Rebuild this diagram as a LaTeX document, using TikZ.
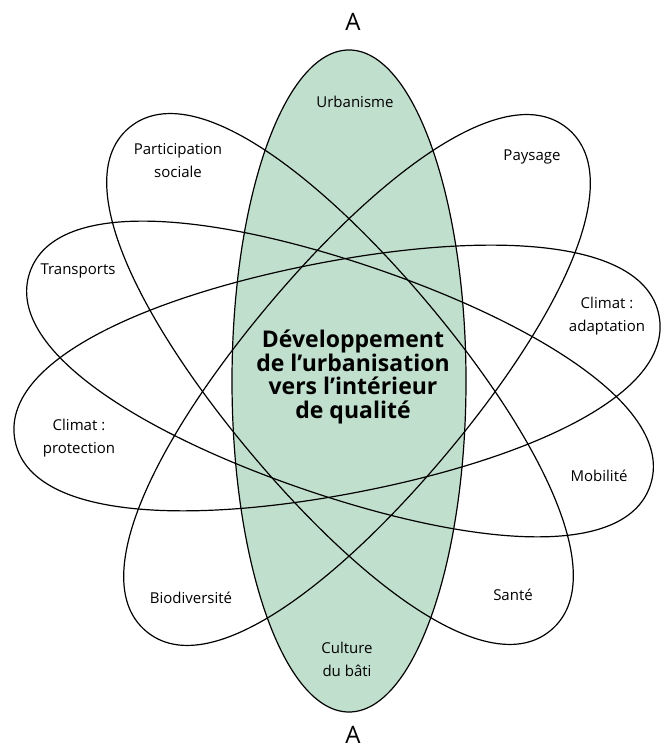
\documentclass[tikz,border=0pt]{standalone}
\usepackage{fontspec}
\setmainfont{Open Sans}
\usetikzlibrary{positioning}
\definecolor{urbgreen}{RGB}{193,223,205}

\tikzset{
    petal/.style={draw=black, line width=1.2pt},
    % blunt-ended oval, long axis along x (328 x 116)
    petalshape/.style={insert path={
        (328,0) .. controls (328,81) and (170,116) .. (0,116)
        .. controls (-170,116) and (-328,81) .. (-328,0)
        .. controls (-328,-81) and (-170,-116) .. (0,-116)
        .. controls (170,-116) and (328,-81) .. (328,0) -- cycle}},
    lbl/.style={align=center, inner sep=0pt, font=\fontsize{15}{23}\selectfont},
    corelbl/.style={align=center, inner sep=0pt, font=\fontsize{23}{23.5}\selectfont\bfseries},
    axislbl/.style={inner sep=0pt, font=\fontsize{24}{24}\selectfont}
}

\begin{document}
\begin{tikzpicture}[x=1pt, y=1pt]
    \useasboundingbox (0,0) rectangle (663,751);

    % Centres of the ellipses
    \coordinate (hub) at (349,370);
    \coordinate (hubPS) at (340,372);
    \coordinate (hubPB) at (357,371);
    \coordinate (hubTM) at (340,372);
    \coordinate (hubCC) at (337,373);

    % Central ellipse (filled, below all outlines)
    \fill[urbgreen] (hub) ellipse [x radius=117pt, y radius=331pt];

    % Participation sociale -- Sante
    \draw[petal, shift={(hubPS)}, rotate=-50, petalshape];
    % Paysage -- Biodiversite
    \draw[petal, shift={(hubPB)}, rotate=50, petalshape];
    % Transports -- Mobilite
    \draw[petal, shift={(hubTM)}, rotate=-19, petalshape];
    % Climat : protection -- Climat : adaptation
    \draw[petal, shift={(hubCC)}, rotate=11, petalshape];
    % Urbanisme -- Culture du bati
    \draw[petal] (hub) ellipse [x radius=117pt, y radius=331pt];

    % Axis marks
    \node[axislbl] (atop) at (353,729) {A};
    \node[axislbl] (abot) at (353,16) {A};

    % Labels
    \node[lbl] (urba) at (355,649) {Urbanisme};
    \node[lbl] (culture) at (347,92) {Culture\\du bâti};
    \node[lbl] (partic) at (178,590) {Participation\\sociale};
    \node[lbl] (sante) at (513,156) {Santé};
    \node[lbl] (paysage) at (532,594) {Paysage};
    \node[lbl] (biodiv) at (191,153) {Biodiversité};
    \node[lbl] (transp) at (78,480) {Transports};
    \node[lbl] (mobil) at (599,275) {Mobilité};
    \node[lbl] (climprot) at (79,313) {Climat :\\protection};
    \node[lbl] (climadapt) at (607,435) {Climat :\\adaptation};

    % Core text
    \node[corelbl] (core) at (353,374) {Développement\\de l’urbanisation\\vers l’intérieur\\de qualité};
\end{tikzpicture}
\end{document}
